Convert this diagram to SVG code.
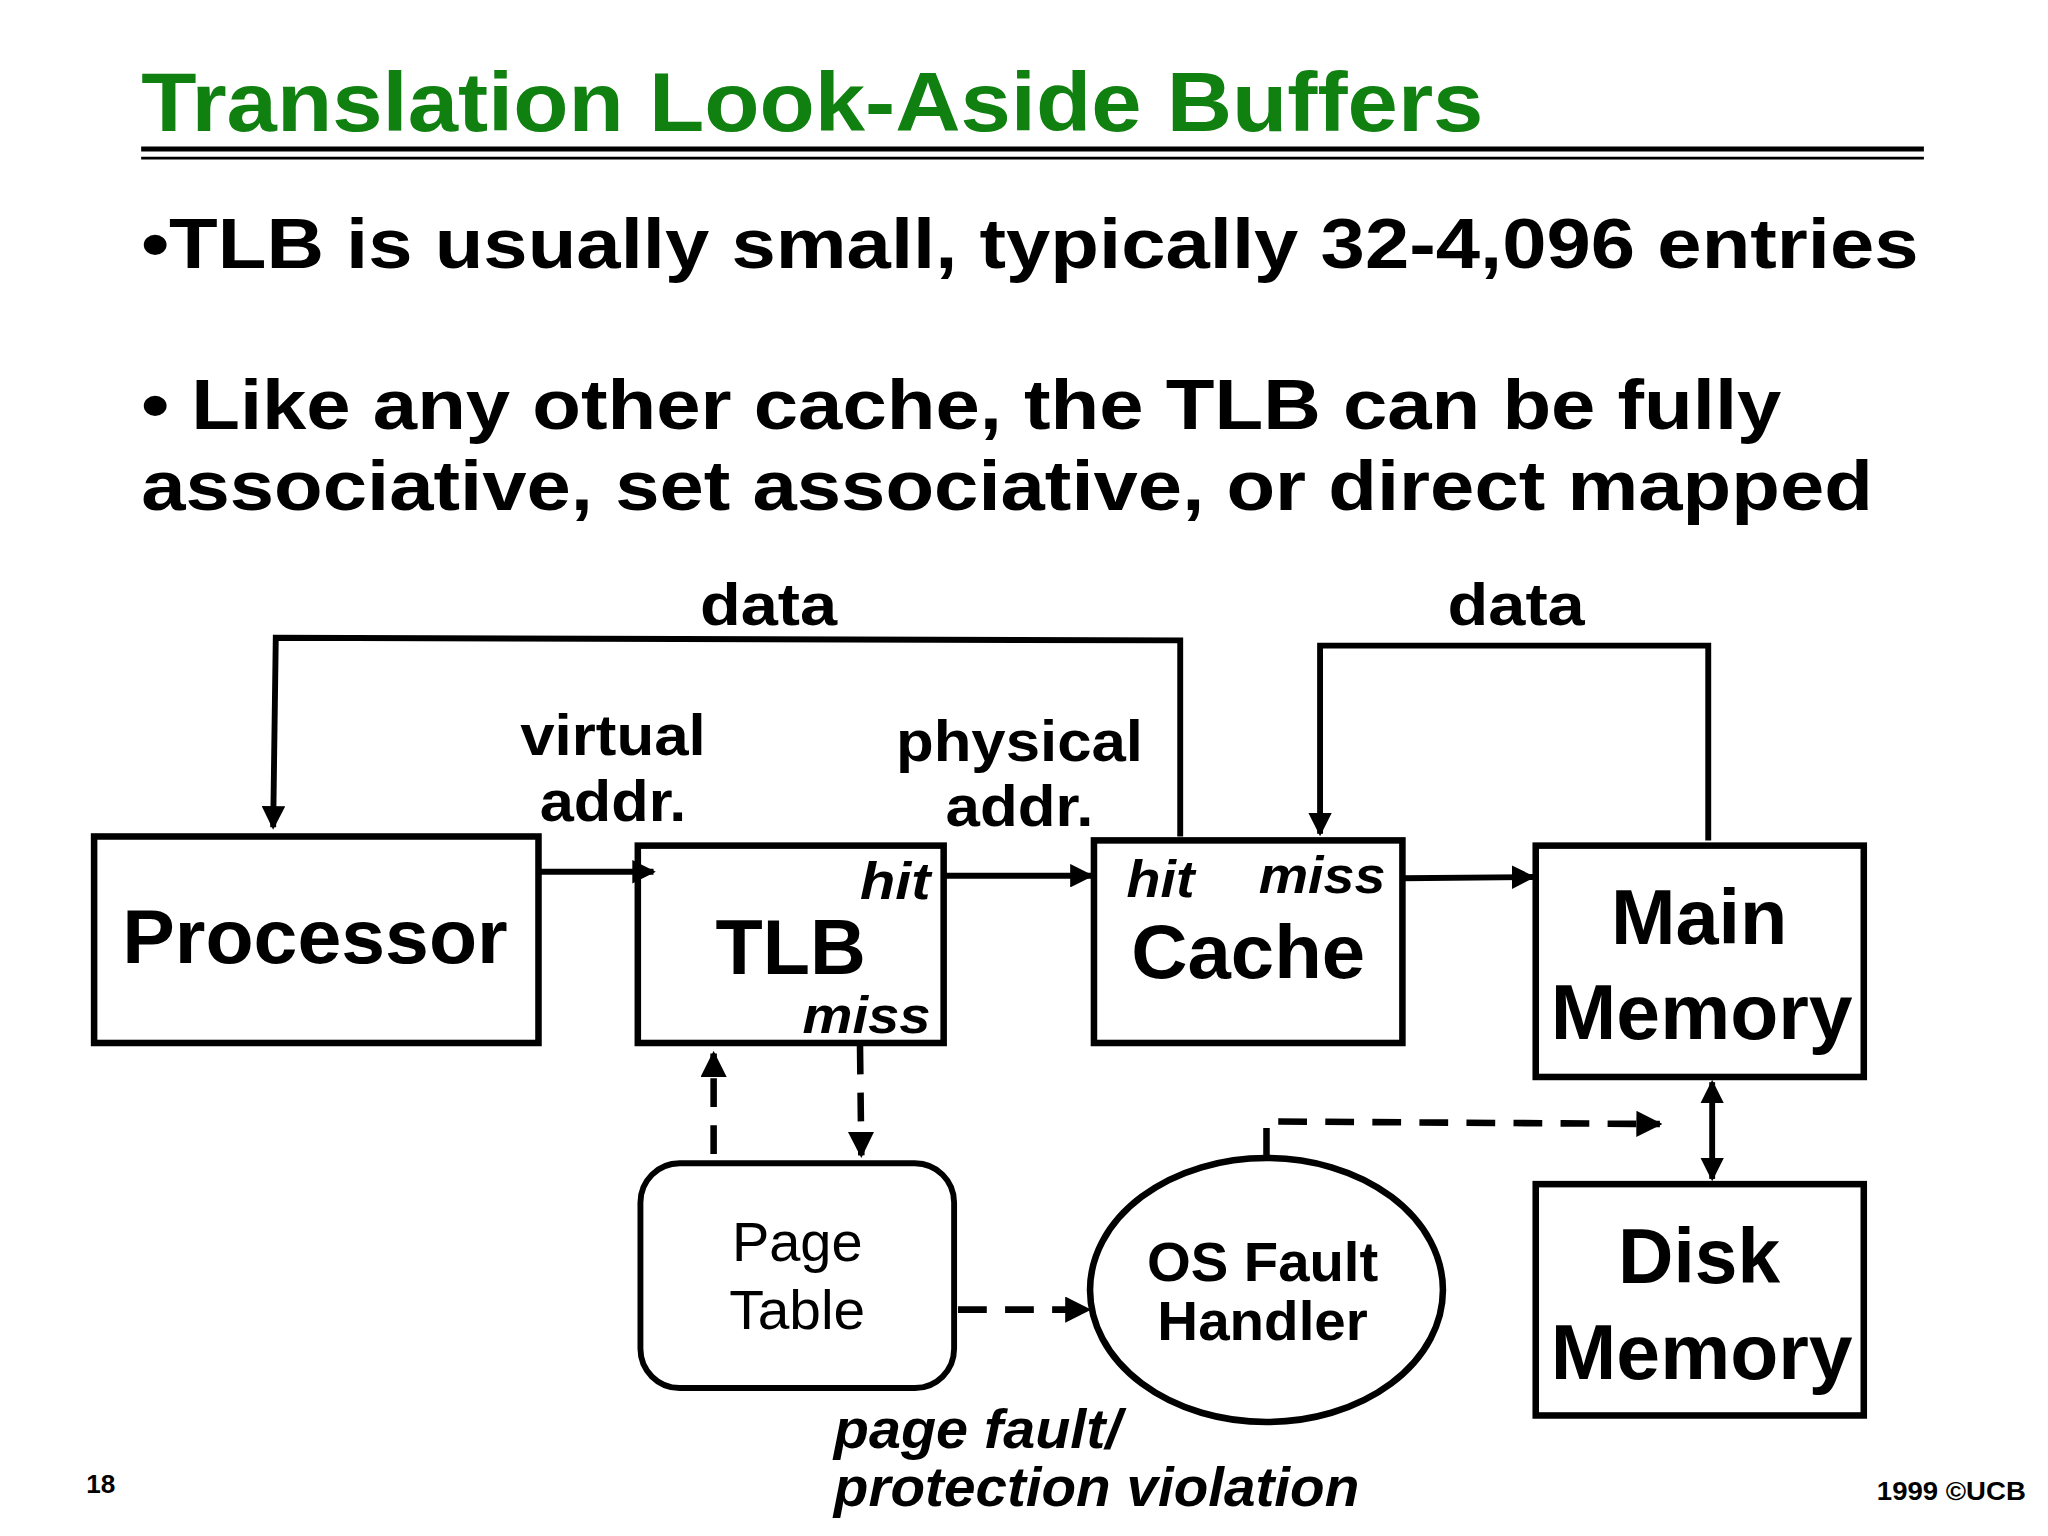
<svg xmlns="http://www.w3.org/2000/svg" width="2048" height="1536" viewBox="0 0 2048 1536">
<style>
text{font-family:"Liberation Sans",Arial,sans-serif;font-weight:bold;fill:#000}
.c{text-anchor:middle}
.i{font-style:italic}
.box{fill:none;stroke:#000;stroke-width:5}
.ln{fill:none;stroke:#000;stroke-width:4.5}
.d{stroke-dasharray:22,14;stroke-width:5}
</style>
<defs>
<marker id="a" viewBox="0 0 10 10" refX="9" refY="5" markerWidth="4" markerHeight="4" orient="auto-start-reverse"><path d="M0,0L10,5L0,10z" fill="#000"/></marker>
</defs>
<rect width="2048" height="1536" fill="#fff"/>
<g transform="scale(1.307)">
<text x="108" y="100" font-size="64" style="fill:#108010" textLength="1027" lengthAdjust="spacingAndGlyphs">Translation Look-Aside Buffers</text>
<line x1="108" y1="114" x2="1472" y2="114" stroke="#000" stroke-width="4"/>
<line x1="108" y1="121" x2="1472" y2="121" stroke="#000" stroke-width="2"/>
<text x="108" y="205" font-size="54" textLength="1360" lengthAdjust="spacingAndGlyphs">•TLB is usually small, typically 32-4,096 entries</text>
<text x="108" y="328" font-size="54" textLength="1255" lengthAdjust="spacingAndGlyphs">• Like any other cache, the TLB can be fully</text>
<text x="108" y="390" font-size="54" textLength="1325" lengthAdjust="spacingAndGlyphs">associative, set associative, or direct mapped</text>
<g id="connectors">
<polyline class="ln" points="903,640 903,490 211,488 209,633" marker-end="url(#a)"/>
<polyline class="ln" points="1307,643 1307,494 1010,494 1010,638" marker-end="url(#a)"/>
<line class="ln" x1="412" y1="667" x2="500" y2="667" marker-end="url(#a)"/>
<line class="ln" x1="722" y1="670" x2="835" y2="670" marker-end="url(#a)"/>
<line class="ln" x1="1073" y1="672" x2="1173" y2="671" marker-end="url(#a)"/>
<line class="ln d" x1="546" y1="883" x2="546" y2="806" marker-end="url(#a)"/>
<line class="ln d" x1="658" y1="800" x2="659" y2="884" marker-end="url(#a)"/>
<line class="ln d" x1="733" y1="1002" x2="833" y2="1002" marker-end="url(#a)"/>
<polyline class="ln d" points="969,885 969,858 1270,860" marker-end="url(#a)"/>
<line class="ln" x1="1310" y1="828" x2="1310" y2="902" marker-start="url(#a)" marker-end="url(#a)"/>
<text class="c" x="588" y="478" font-size="46" textLength="105" lengthAdjust="spacingAndGlyphs">data</text>
<text class="c" x="1160" y="478" font-size="46" textLength="105" lengthAdjust="spacingAndGlyphs">data</text>
<text class="c" x="469" y="578" font-size="44" textLength="142" lengthAdjust="spacingAndGlyphs">virtual</text>
<text class="c" x="469" y="628" font-size="44" textLength="112" lengthAdjust="spacingAndGlyphs">addr.</text>
<text class="c" x="780" y="582" font-size="44" textLength="189" lengthAdjust="spacingAndGlyphs">physical</text>
<text class="c" x="780" y="632" font-size="44" textLength="113" lengthAdjust="spacingAndGlyphs">addr.</text>
<text class="i" x="638" y="1108" font-size="42" textLength="220" lengthAdjust="spacingAndGlyphs">page fault/</text>
<text class="i" x="638" y="1152" font-size="42" textLength="402" lengthAdjust="spacingAndGlyphs">protection violation</text>
</g>
<g id="processor"><rect class="box" x="72" y="640" width="340" height="158"/><text class="c" x="241" y="737" font-size="58" textLength="295" lengthAdjust="spacingAndGlyphs">Processor</text></g>
<g id="tlb"><rect class="box" x="488" y="647" width="234" height="151"/><text class="c" x="605" y="745" font-size="60" textLength="115" lengthAdjust="spacingAndGlyphs">TLB</text>
<text class="i" x="712" y="688" font-size="40" text-anchor="end" textLength="54" lengthAdjust="spacingAndGlyphs">hit</text><text class="i" x="712" y="790" font-size="40" text-anchor="end" textLength="98" lengthAdjust="spacingAndGlyphs">miss</text></g>
<g id="cache"><rect class="box" x="837" y="643" width="236" height="155"/><text class="c" x="955" y="748" font-size="58" textLength="179" lengthAdjust="spacingAndGlyphs">Cache</text>
<text class="i" x="862" y="686" font-size="40" textLength="52" lengthAdjust="spacingAndGlyphs">hit</text><text class="i" x="1060" y="683" font-size="40" text-anchor="end" textLength="97" lengthAdjust="spacingAndGlyphs">miss</text></g>
<g id="main"><rect class="box" x="1175" y="647" width="251" height="177"/><text class="c" x="1300" y="722" font-size="60" textLength="135" lengthAdjust="spacingAndGlyphs">Main</text><text class="c" x="1302" y="795" font-size="60" textLength="231" lengthAdjust="spacingAndGlyphs">Memory</text></g>
<g id="disk"><rect class="box" x="1175" y="906" width="251" height="177"/><text class="c" x="1300" y="982" font-size="60" textLength="124" lengthAdjust="spacingAndGlyphs">Disk</text><text class="c" x="1302" y="1055" font-size="60" textLength="231" lengthAdjust="spacingAndGlyphs">Memory</text></g>
<g id="pagetable"><rect class="ln" x="490" y="890" width="240" height="172" rx="30"/><text class="c" x="610" y="965" font-size="42" style="font-weight:normal" textLength="100" lengthAdjust="spacingAndGlyphs">Page</text><text class="c" x="610" y="1017" font-size="42" style="font-weight:normal" textLength="104" lengthAdjust="spacingAndGlyphs">Table</text></g>
<g id="os"><ellipse class="box" cx="969" cy="987" rx="135" ry="101"/><text class="c" x="966" y="980" font-size="42" textLength="177" lengthAdjust="spacingAndGlyphs">OS Fault</text><text class="c" x="966" y="1025" font-size="42" textLength="161" lengthAdjust="spacingAndGlyphs">Handler</text></g>
<text x="66" y="1142" font-size="20">18</text>
<text x="1550" y="1148" font-size="20" text-anchor="end" textLength="114" lengthAdjust="spacingAndGlyphs">1999 ©UCB</text>
</g>
</svg>
